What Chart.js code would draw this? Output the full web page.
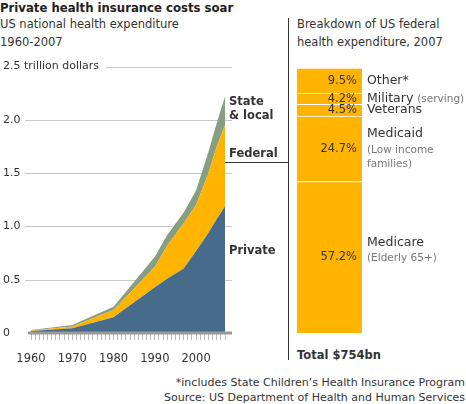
<!DOCTYPE html>
<html>
<head>
<meta charset="utf-8">
<script src="https://cdn.jsdelivr.net/npm/chart.js@4.4.1/dist/chart.umd.min.js"></script>
<style>
html, body { margin: 0; padding: 0; background: #fff; }
body { width: 466px; height: 404px; position: relative; overflow: hidden;
       font-family: "DejaVu Sans", Verdana, sans-serif; color: #333; }
.t { position: absolute; white-space: nowrap; }
#leftWrap { position: absolute; left: 0; top: 0; width: 288px; height: 404px; }
#rightWrap { position: absolute; left: 290px; top: 0; width: 176px; height: 404px; }
</style>
</head>
<body>
<div class="t" style="left:0;top:0;font-size:11.7px;font-weight:bold;line-height:16px;color:#222">Private health insurance costs soar</div>
<div class="t" style="left:0;top:15px;font-size:11.5px;line-height:18px">US national health expenditure<br>1960-2007</div>
<div class="t" style="left:297px;top:15px;font-size:11.5px;line-height:18px">Breakdown of US federal<br>health expenditure, 2007</div>
<div style="position:absolute;left:288px;top:18px;width:1px;height:342px;background:#333"></div>
<div class="t" style="left:297px;top:347px;font-size:11.5px;font-weight:bold;line-height:16px">Total $754bn</div>
<div class="t" style="right:1px;top:375px;font-size:11px;line-height:15px;text-align:right">*includes State Children’s Health Insurance Program<br>Source: US Department of Health and Human Services</div>

<div id="leftWrap"><canvas id="areaChart"></canvas></div>
<div id="rightWrap"><canvas id="barChart"></canvas></div>

<script>
// US national health expenditure, trillion dollars (each series is its own slice of the stack)
const years = [1960, 1970, 1980, 1990, 1993, 1997, 2000, 2003, 2005, 2007];
const privateSpend = [0.019, 0.044, 0.147, 0.43, 0.51, 0.606, 0.77, 0.94, 1.07, 1.19];
const federalSpend = [0.005, 0.016, 0.069, 0.19, 0.31, 0.424, 0.43, 0.56, 0.68, 0.76];
const stateLocalSpend = [0.004, 0.015, 0.031, 0.095, 0.10, 0.10, 0.14, 0.20, 0.22, 0.27];
const yTicks = [0, 0.5, 1.0, 1.5, 2.0, 2.5];
const yUnit = 'trillion dollars';
const decadeLabels = [1960, 1970, 1980, 1990, 2000];

// Federal health expenditure 2007, percent, bottom of the bar first
const fedCategories = ['Medicare', 'Medicaid', 'Veterans', 'Military', 'Other*'];
const fedNotes = [['(Elderly 65+)'], ['(Low income', 'families)'], [], ['(serving)'], []];
const fedShares = [57.2, 24.7, 4.5, 4.2, 9.5];

const BLUE = '#466b8b';
const YELLOW = '#ffb400';
const GREEN = '#869e84';
const FONT = '"DejaVu Sans", Verdana, sans-serif';

Chart.defaults.font.family = FONT;
Chart.defaults.color = '#333';

const toPoints = arr => arr.map((v, i) => ({ x: years[i], y: v }));
const yTop = yTicks[yTicks.length - 1];
const fmtY = v => v === 0 ? '0' : v.toFixed(1);

// gridlines, baseline and the area labels on the right
const areaDecor = {
    id: 'areaDecor',
    beforeDatasetsDraw(chart) {
        const { ctx, chartArea: a, scales: { y } } = chart;
        ctx.save();
        ctx.font = '11px ' + FONT;
        // top tick carries the unit; drawn here since the axis clips its labels
        const topLabel = fmtY(yTop) + ' ' + yUnit;
        const ty = y.getPixelForValue(yTop);
        ctx.fillStyle = '#333';
        ctx.textBaseline = 'middle';
        ctx.textAlign = 'left';
        ctx.fillText(topLabel, y.left, ty);

        ctx.strokeStyle = '#c8c8c8';
        ctx.lineWidth = 1;
        yTicks.forEach(v => {
            if (v === 0) return;
            const py = Math.round(y.getPixelForValue(v)) + 0.5;
            let x0 = a.left - 6;
            if (v === yTop) x0 = y.left + ctx.measureText(topLabel).width + 7;
            ctx.beginPath();
            ctx.moveTo(x0, py);
            ctx.lineTo(a.right + 7, py);
            ctx.stroke();
        });
        ctx.restore();
    },
    afterDatasetsDraw(chart) {
        const { ctx, chartArea: a, scales: { y } } = chart;
        ctx.save();
        // axis baseline
        const by = y.getPixelForValue(0);
        ctx.strokeStyle = '#999';
        ctx.lineWidth = 3;
        ctx.beginPath();
        ctx.moveTo(a.left - 3, by);
        ctx.lineTo(a.right + 7, by);
        ctx.stroke();

        // series labels
        ctx.fillStyle = '#333';
        ctx.font = 'bold 11.5px ' + FONT;
        ctx.textBaseline = 'middle';
        ctx.textAlign = 'left';
        const lx = a.right + 4;
        ctx.fillText('State', lx, y.getPixelForValue(2.166));
        ctx.fillText('& local', lx, y.getPixelForValue(2.034));
        ctx.fillText('Federal', lx, y.getPixelForValue(1.678));
        ctx.fillText('Private', lx, y.getPixelForValue(0.769));

        // connector from Federal to the breakdown panel
        const cy = Math.round(y.getPixelForValue(1.603)) + 0.5;
        ctx.strokeStyle = '#333';
        ctx.lineWidth = 1;
        ctx.beginPath();
        ctx.moveTo(a.right, cy);
        ctx.lineTo(chart.width, cy);
        ctx.stroke();
        ctx.restore();
    }
};

const areaCtx = document.getElementById('areaChart').getContext('2d');
new Chart(areaCtx, {
    type: 'line',
    data: {
        datasets: [
            { label: 'Private', data: toPoints(privateSpend), backgroundColor: BLUE, fill: 'origin' },
            { label: 'Federal', data: toPoints(federalSpend), backgroundColor: YELLOW, fill: '-1' },
            { label: 'State & local', data: toPoints(stateLocalSpend), backgroundColor: GREEN, fill: '-1' },
        ],
    },
    options: {
        responsive: true,
        maintainAspectRatio: false,
        animation: false,
        elements: {
            line: { borderWidth: 0, tension: 0 },
            point: { radius: 0 },
        },
        layout: { padding: { left: 3, right: 63, top: 66.5, bottom: 0 } },
        plugins: {
            legend: { display: false },
            tooltip: { enabled: false },
        },
        scales: {
            x: {
                type: 'linear',
                min: years[0],
                max: years[years.length - 1],
                grid: { display: true, drawOnChartArea: false, drawTicks: true, tickLength: 7, color: '#bbb' },
                border: { display: false },
                ticks: {
                    stepSize: 1,
                    autoSkip: false,
                    maxRotation: 0,
                    minRotation: 0,
                    padding: 12,
                    font: { size: 11.5 },
                    color: '#333',
                    callback: v => decadeLabels.includes(v) ? String(v) : '',
                },
                afterFit: s => { s.height = 71; },
            },
            y: {
                stacked: true,
                min: 0,
                max: yTop,
                grid: { display: false },
                border: { display: false },
                afterBuildTicks: s => { s.ticks = yTicks.map(v => ({ value: v })); },
                ticks: {
                    crossAlign: 'far',
                    padding: 0,
                    font: { size: 11 },
                    color: '#333',
                    callback: v => v === yTop ? '' : fmtY(v),
                },
                afterFit: s => { s.width = 28; },
            },
        },
    },
    plugins: [areaDecor],
});

// percentages inside the bar, names to its right
const barLabels = {
    id: 'barLabels',
    afterDatasetsDraw(chart) {
        const { ctx } = chart;
        ctx.save();
        ctx.textBaseline = 'middle';
        chart.data.datasets.forEach((ds, i) => {
            const bar = chart.getDatasetMeta(i).data[0];
            const cy = (bar.y + bar.base) / 2;
            const right = bar.x + bar.width / 2;
            ctx.fillStyle = '#333';
            ctx.font = '11.5px ' + FONT;
            ctx.textAlign = 'right';
            ctx.fillText(ds.data[0].toFixed(1) + '%', right - 5, cy);

            ctx.textAlign = 'left';
            const notes = fedNotes[i];
            const thin = Math.abs(bar.base - bar.y) < 20;
            const nx = right + 5;
            if (!notes.length || thin) {
                ctx.font = '12.5px ' + FONT;
                ctx.fillText(ds.label, nx, cy);
                if (notes.length) {
                    const w = ctx.measureText(ds.label + ' ').width;
                    ctx.font = '10.5px ' + FONT;
                    ctx.fillStyle = '#777';
                    ctx.fillText(notes[0], nx + w, cy + 1);
                }
            } else {
                ctx.font = '12.5px ' + FONT;
                ctx.fillText(ds.label, nx, cy - 15);
                ctx.font = '10.5px ' + FONT;
                ctx.fillStyle = '#777';
                notes.forEach((n, k) => ctx.fillText(n, nx, cy + 1 + k * 14.5));
            }
        });
        ctx.restore();
    }
};

const barCtx = document.getElementById('barChart').getContext('2d');
new Chart(barCtx, {
    type: 'bar',
    data: {
        labels: ['2007'],
        datasets: fedCategories.map((c, i) => ({
            label: c,
            data: [fedShares[i]],
            backgroundColor: YELLOW,
            borderColor: '#fff',
            borderWidth: { top: 1, bottom: 0, left: 0, right: 0 },
            borderSkipped: false,
        })),
    },
    options: {
        responsive: true,
        maintainAspectRatio: false,
        animation: false,
        barPercentage: 1,
        categoryPercentage: 1,
        layout: { padding: { left: 7, right: 104, top: 68, bottom: 71 } },
        plugins: {
            legend: { display: false },
            tooltip: { enabled: false },
        },
        scales: {
            x: { display: false, stacked: true },
            y: { display: false, stacked: true, min: 0, max: fedShares.reduce((s, v) => s + v, 0) },
        },
    },
    plugins: [barLabels],
});
</script>
</body>
</html>
